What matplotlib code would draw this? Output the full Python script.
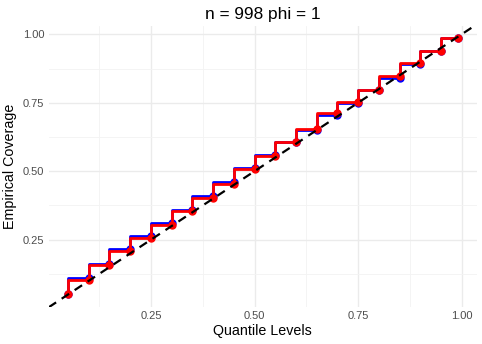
import numpy as np
import matplotlib
matplotlib.use('Agg')
import matplotlib.pyplot as plt

# quantile levels and empirical coverage of the two methods
levels = [0.05, 0.10, 0.15, 0.20, 0.25, 0.30, 0.35, 0.40, 0.45, 0.50,
          0.55, 0.60, 0.65, 0.70, 0.75, 0.80, 0.85, 0.90, 0.95, 0.99]
cov_blue = [0.050, 0.110, 0.162, 0.215, 0.262, 0.310, 0.360, 0.410, 0.459, 0.510,
            0.560, 0.607, 0.652, 0.706, 0.750, 0.795, 0.840, 0.890, 0.938, 0.985]
cov_red = [0.050, 0.104, 0.156, 0.210, 0.256, 0.305, 0.354, 0.404, 0.454, 0.507,
           0.556, 0.607, 0.654, 0.711, 0.754, 0.798, 0.846, 0.895, 0.940, 0.985]
title = "n = 998 phi = 1"

plt.rcParams['font.family'] = ['Liberation Sans', 'DejaVu Sans']

fig = plt.figure(figsize=(4.82, 3.44), dpi=100)
ax = fig.add_axes([0.1008, 0.1067, 0.8888, 0.8189])

ax.plot(levels, cov_blue, drawstyle='steps-pre', color='#0000FF', lw=2.0, zorder=3)
ax.plot(levels, cov_blue, 'o', color='#0000FF', ms=5, zorder=3)
ax.plot(levels, cov_red, drawstyle='steps-pre', color='#FF0000', lw=2.0, zorder=4)
ax.plot(levels, cov_red, 'o', color='#FF0000', ms=5, zorder=4)
ax.axline((0, 0), slope=1, color='black', lw=1.6, ls=(0, (4, 3)), zorder=5)

lo = min(levels); hi = max(levels)
pad = 0.05 * (hi - lo)
ax.set_xlim(lo - pad, hi + pad)
ylo = min(cov_blue + cov_red); yhi = max(cov_blue + cov_red)
ypad = 0.05 * (yhi - ylo)
ax.set_ylim(ylo - ypad, yhi + ypad)

ticks = [0.25, 0.50, 0.75, 1.00]
ax.set_xticks(ticks)
ax.set_yticks(ticks)
ax.set_xticklabels(['0.25', '0.50', '0.75', '1.00'])
ax.set_yticklabels(['0.25', '0.50', '0.75', '1.00'])
ax.set_xticks([0.125, 0.375, 0.625, 0.875], minor=True)
ax.set_yticks([0.125, 0.375, 0.625, 0.875], minor=True)
ax.grid(which='major', color='#EBEBEB', lw=1.0)
ax.grid(which='minor', color='#F3F3F3', lw=0.6)
ax.set_axisbelow(True)
for s in ax.spines.values():
    s.set_visible(False)
ax.tick_params(which='both', length=0, labelsize=8, labelcolor='#4D4D4D', pad=3)

ax.set_xlabel('Quantile Levels', fontsize=10.3, labelpad=2)
ax.set_ylabel('Empirical Coverage', fontsize=10.3, labelpad=4)
ax.set_title(title, fontsize=12.4, pad=5)

fig.savefig('out.png', dpi=100)
